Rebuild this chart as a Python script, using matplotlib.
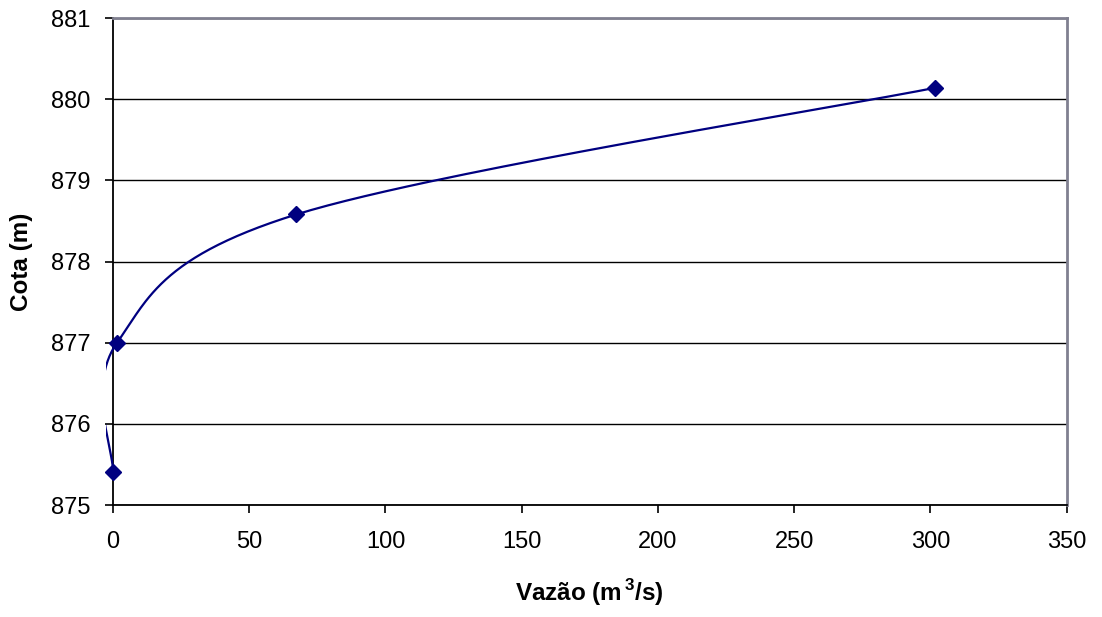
import numpy as np
import matplotlib
matplotlib.use("Agg")
import matplotlib.pyplot as plt
from matplotlib.patches import Rectangle

vazao = [0.0, 1.5, 67.3, 301.7]
cota = [875.41, 877.0, 878.58, 880.14]
xticks = [0, 50, 100, 150, 200, 250, 300, 350]
yticks = [875, 876, 877, 878, 879, 880, 881]

plt.rcParams['font.family'] = ['Liberation Sans', 'DejaVu Sans']
plt.rcParams['mathtext.fontset'] = 'custom'
plt.rcParams['mathtext.rm'] = 'Liberation Sans:bold'
plt.rcParams['mathtext.bf'] = 'Liberation Sans:bold'

def excel_smooth(x, y, n=60):
    P = np.column_stack([x, y]).astype(float)
    m = len(P)
    out = [P[0]]
    for i in range(m - 1):
        p0 = P[i - 1] if i > 0 else P[i]
        p1 = P[i]
        p2 = P[i + 1]
        p3 = P[i + 2] if i + 2 < m else P[i + 1]
        c1 = p1 + (p2 - p0) / 6.0
        c2 = p2 - (p3 - p1) / 6.0
        t = np.linspace(0, 1, n)[1:, None]
        seg = ((1 - t) ** 3) * p1 + 3 * ((1 - t) ** 2) * t * c1 + 3 * (1 - t) * t ** 2 * c2 + t ** 3 * p2
        out.extend(seg)
    out = np.array(out)
    return out[:, 0], out[:, 1]

fig = plt.figure(figsize=(11.02, 6.17), dpi=100)
ax = fig.add_axes([0.1025, 0.1815, 0.8655, 0.7893])

ax.set_xlim(0, 350)
ax.set_ylim(875, 881)
ax.set_xticks(xticks)
ax.set_yticks(yticks)
ax.set_xticklabels([str(v) for v in xticks])
ax.set_yticklabels([str(v) for v in yticks])
ax.yaxis.grid(True, color='black', linewidth=1.0)
ax.set_axisbelow(True)

sx, sy = excel_smooth(vazao, cota)
line, = ax.plot(sx, sy, color='#000080', linewidth=1.6, zorder=3)
clip = Rectangle((-0.0075, 0), 1.0075, 1, transform=ax.transAxes, facecolor='none', edgecolor='none')
ax.add_patch(clip)
line.set_clip_path(clip)
ax.plot(vazao, cota, linestyle='none', marker='D', markersize=8.5, color='#000080', zorder=4, clip_on=False)

for s in ['left', 'bottom']:
    ax.spines[s].set_color('black')
    ax.spines[s].set_linewidth(1.3)
for s in ['top', 'right']:
    ax.spines[s].set_color('#808090')
    ax.spines[s].set_linewidth(2.0)

ax.tick_params(axis='both', direction='out', length=6, width=1.2, labelsize=17, colors='black')
ax.tick_params(axis='x', pad=13)
ax.tick_params(axis='y', pad=10)

ax.set_xlabel(r'Vazão (m$^{\,\mathbf{3}}$/s)', fontsize=17.5, fontweight='bold', labelpad=17)
ax.set_ylabel('Cota (m)', fontsize=17.5, fontweight='bold', labelpad=13)

fig.savefig('out.png', dpi=100)
